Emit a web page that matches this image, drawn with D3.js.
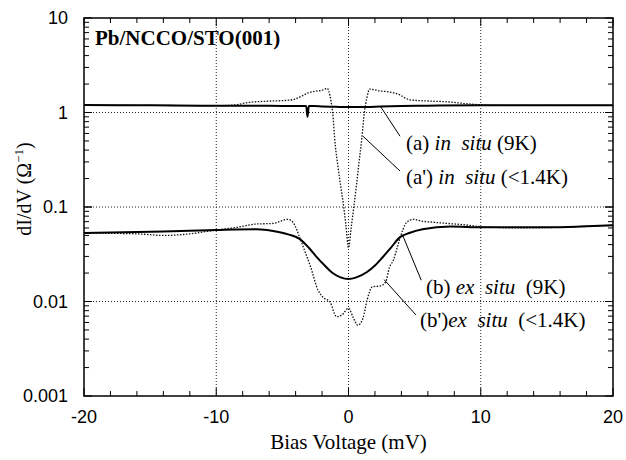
<!DOCTYPE html>
<html>
<head>
<meta charset="utf-8">
<script src="https://cdn.jsdelivr.net/npm/d3@7"></script>
<style>
  html, body { margin: 0; padding: 0; background: #fff; }
  svg { display: block; }
  .tick-label { font-family: "Liberation Sans", Arial, sans-serif; font-size: 18px; fill: #000; }
  .serif { font-family: "Liberation Serif", "Times New Roman", serif; fill: #000; white-space: pre; }
</style>
</head>
<body>
<svg id="chart" width="626" height="460"></svg>
<script>
// Tunneling conductance dI/dV vs. bias voltage, Pb/NCCO/STO(001) junctions

// (a) in situ, 9 K
const vA = [-20, -15, -10, -6, -4, -3.2, -3.1, -3.0, -2.6, -2, -1, 0, 1, 2, 4, 6, 10, 15, 20];
const gA = [1.2, 1.19, 1.18, 1.18, 1.17, 1.17, 0.9, 1.17, 1.17, 1.16, 1.15, 1.14, 1.14, 1.15, 1.17, 1.18, 1.19, 1.19, 1.19];

// (a') in situ, < 1.4 K
const vA2 = [-20, -15, -10, -8.7, -7.5, -6, -4.5, -4.1, -3.5, -3.1, -2.5, -2.0, -1.6, -1.4, -1.2, -1.0, -0.8, -0.6, -0.4, -0.2, 0,
             0.2, 0.4, 0.6, 0.8, 1.0, 1.2, 1.4, 1.6, 2.4, 3.1, 3.9, 4.3, 4.65, 6.2, 7.7, 8.4, 9.9, 12, 15, 20];
const gA2 = [1.2, 1.19, 1.18, 1.2, 1.28, 1.32, 1.35, 1.38, 1.5, 1.6, 1.68, 1.72, 1.8, 1.5, 1.0, 0.45, 0.27, 0.17, 0.11, 0.065, 0.037,
             0.06, 0.1, 0.17, 0.3, 0.52, 1.0, 1.45, 1.77, 1.69, 1.65, 1.53, 1.42, 1.36, 1.32, 1.29, 1.26, 1.21, 1.19, 1.19, 1.19];

// (b) ex situ, 9 K
const vB = [-20, -17, -14, -10, -7, -5.2, -4.5, -3.7, -3, -2.4, -1.8, -1.2, -0.6, 0, 0.6, 1.4, 2, 2.6, 3.2, 3.9, 4.6, 5.6, 7.7, 10.2, 13, 15.2, 17.5, 20];
const gB = [0.053, 0.054, 0.055, 0.057, 0.058, 0.054, 0.051, 0.046, 0.037, 0.0295, 0.024, 0.020, 0.018, 0.0173, 0.018, 0.0205, 0.024, 0.0296, 0.037, 0.048, 0.053, 0.058, 0.062, 0.061, 0.061, 0.061, 0.062, 0.064];

// (b') ex situ, < 1.4 K
const vB2 = [-20, -16, -14, -12, -10, -8.4, -7, -5.7, -4.6, -4.2, -3.7, -3.3, -2.9, -2.3, -1.9, -1.4, -0.9, -0.5, 0, 0.35, 0.7, 1.1, 1.4, 1.8,
             2.4, 2.8, 3.1, 3.4, 3.7, 4.1, 4.4, 4.9, 5.5, 6.4, 7.5, 8.7, 10, 13, 16, 20];
const gB2 = [0.053, 0.052, 0.05, 0.052, 0.057, 0.061, 0.066, 0.067, 0.074, 0.069, 0.048, 0.034, 0.024, 0.0132, 0.011, 0.0099, 0.0069, 0.0072, 0.0085, 0.0068, 0.0056, 0.0067, 0.0103, 0.0143,
             0.0146, 0.016, 0.023, 0.0275, 0.038, 0.057, 0.069, 0.074, 0.071, 0.069, 0.067, 0.065, 0.062, 0.060, 0.061, 0.064];

// Axis ticks
const xTicks = [-20, -10, 0, 10, 20];
const xTickLabels = ["-20", "-10", "0", "10", "20"];
const yTicks = [10, 1, 0.1, 0.01, 0.001];
const yTickLabels = ["10", "1", "0.1", "0.01", "0.001"];

const title = "Pb/NCCO/STO(001)";
const xTitle = "Bias Voltage (mV)";

const svg = d3.select("#chart");
const L = 84, R = 613, T = 18, B = 396;

const x = d3.scaleLinear().domain([-20, 20]).range([L, R]);
const y = d3.scaleLog().domain([0.001, 10]).range([B, T]);

// Grid lines (dotted)
const grid = svg.append("g").attr("stroke", "#222").attr("stroke-width", 1).attr("stroke-dasharray", "1,2");
[-10, 0, 10].forEach(v => grid.append("line").attr("x1", x(v)).attr("x2", x(v)).attr("y1", T).attr("y2", B));
[1, 0.1, 0.01].forEach(v => grid.append("line").attr("x1", L).attr("x2", R).attr("y1", y(v)).attr("y2", y(v)));

// Inward ticks on all four sides
const tk = svg.append("g").attr("stroke", "#000").attr("stroke-width", 1);
d3.range(-20, 20.001, 2).forEach(v => {
  const len = (Math.abs(v % 10) < 1e-9) ? 8 : 5;
  tk.append("line").attr("x1", x(v)).attr("x2", x(v)).attr("y1", B).attr("y2", B - len);
  tk.append("line").attr("x1", x(v)).attr("x2", x(v)).attr("y1", T).attr("y2", T + len);
});
[0.001, 0.01, 0.1, 1].forEach(d => {
  for (let m = 1; m <= 10; m++) {
    const v = d * m;
    const len = (m === 1 || m === 10) ? 8 : 5;
    tk.append("line").attr("x1", L).attr("x2", L + len).attr("y1", y(v)).attr("y2", y(v));
    tk.append("line").attr("x1", R).attr("x2", R - len).attr("y1", y(v)).attr("y2", y(v));
  }
});

// Tick labels
xTicks.forEach((v, i) => svg.append("text").attr("class", "tick-label")
  .attr("x", x(v)).attr("y", 423).attr("text-anchor", "middle").text(xTickLabels[i]));
yTicks.forEach((v, i) => svg.append("text").attr("class", "tick-label")
  .attr("x", 68).attr("y", y(v) + 6).attr("text-anchor", "end").text(yTickLabels[i]));

// Curves
const line = d3.line().x(d => x(d[0])).y(d => y(d[1])).curve(d3.curveMonotoneX);
const zip = (a, b) => a.map((v, i) => [v, b[i]]);

svg.append("path").datum(zip(vA2, gA2)).attr("d", line)
  .attr("fill", "none").attr("stroke", "#111").attr("stroke-width", 1.3).attr("stroke-dasharray", "1.5,1.5");
svg.append("path").datum(zip(vB2, gB2)).attr("d", line)
  .attr("fill", "none").attr("stroke", "#111").attr("stroke-width", 1.3).attr("stroke-dasharray", "1.5,1.5");
svg.append("path").datum(zip(vA, gA)).attr("d", line)
  .attr("fill", "none").attr("stroke", "#000").attr("stroke-width", 2);
svg.append("path").datum(zip(vB, gB)).attr("d", line)
  .attr("fill", "none").attr("stroke", "#000").attr("stroke-width", 2);

// Frame
svg.append("rect").attr("x", L).attr("y", T).attr("width", R - L).attr("height", B - T)
  .attr("fill", "none").attr("stroke", "#000").attr("stroke-width", 1.5);

// Title
svg.append("text").attr("class", "serif").attr("x", 95).attr("y", 45)
  .attr("font-size", 21).attr("font-weight", "bold").text(title);

// Curve annotations with leader lines
const notes = [
  { label: "(a) ",  words: "in  situ", temp: " (9K)",    pts: [[2.4, 1.17], [3.9, 0.56]],    tx: 406, ty: 150 },
  { label: "(a') ", words: "in  situ", temp: " (<1.4K)", pts: [[1.1, 0.56], [3.9, 0.24]],    tx: 406, ty: 184 },
  { label: "(b) ",  words: "ex  situ", temp: "  (9K)",   pts: [[4.1, 0.05], [5.5, 0.0168]],  tx: 426, ty: 294 },
  { label: "(b')",  words: "ex  situ", temp: "  (<1.4K)", pts: [[2.7, 0.017], [5.1, 0.0072]], tx: 420, ty: 327 }
];
notes.forEach(n => {
  svg.append("line")
    .attr("x1", x(n.pts[0][0])).attr("y1", y(n.pts[0][1]))
    .attr("x2", x(n.pts[1][0])).attr("y2", y(n.pts[1][1]))
    .attr("stroke", "#000").attr("stroke-width", 1);
  const t = svg.append("text").attr("class", "serif").attr("font-size", 21)
    .attr("x", n.tx).attr("y", n.ty);
  t.append("tspan").text(n.label);
  t.append("tspan").attr("font-style", "italic").text(n.words);
  t.append("tspan").text(n.temp);
});

// Axis titles
svg.append("text").attr("class", "serif").attr("font-size", 21)
  .attr("x", (L + R) / 2).attr("y", 449).attr("text-anchor", "middle").text(xTitle);

const yl = svg.append("text").attr("class", "serif").attr("font-size", 20)
  .attr("transform", "translate(31,189) rotate(-90)").attr("text-anchor", "middle");
yl.append("tspan").text("dI/dV (Ω");
yl.append("tspan").attr("font-size", 13).attr("dy", -8).text("−1");
yl.append("tspan").attr("dy", 8).text(")");
</script>
</body>
</html>
